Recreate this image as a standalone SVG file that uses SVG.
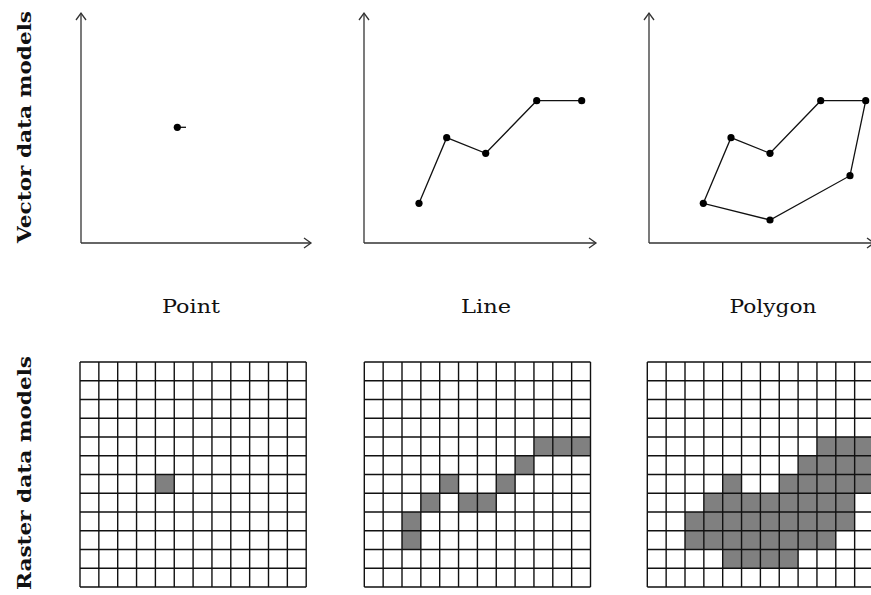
<svg xmlns="http://www.w3.org/2000/svg" xmlns:xlink="http://www.w3.org/1999/xlink" width="871" height="595" viewBox="0 0 871 595">
<style>
.axis{fill:none;stroke:#333;stroke-width:1.3;marker-end:url(#arr)}
.data{fill:none;stroke:#111;stroke-width:1.3}
.dot{fill:#000}
.cell{fill:#808080}
.grid{fill:none;stroke:#111;stroke-width:1.4}
.lbl{font-family:"DejaVu Serif","Liberation Serif",serif;font-size:19px;fill:#111;text-anchor:middle}
.side{font-family:"DejaVu Serif","Liberation Serif",serif;font-size:18px;font-weight:bold;fill:#111;text-anchor:middle}
</style>
<defs>
<marker id="arr" markerUnits="userSpaceOnUse" markerWidth="16" markerHeight="16" refX="0" refY="0" viewBox="-9 -8 12 16" orient="auto">
<path d="M-7,-5 L0,0 L-7,5" fill="none" stroke="#333" stroke-width="1.3"/>
</marker>
<path id="gl" class="grid" d="M0,0V225M18.85,0V225M37.7,0V225M56.55,0V225M75.4,0V225M94.25,0V225M113.1,0V225M131.95,0V225M150.8,0V225M169.65,0V225M188.5,0V225M207.35,0V225M226.2,0V225M0,0H226.2M0,18.75H226.2M0,37.5H226.2M0,56.25H226.2M0,75H226.2M0,93.75H226.2M0,112.5H226.2M0,131.25H226.2M0,150H226.2M0,168.75H226.2M0,187.5H226.2M0,206.25H226.2M0,225H226.2"/>
</defs>
<rect width="871" height="595" fill="#fff"/>
<g id="side-labels">
<text class="side" transform="translate(31,127) rotate(-90)" textLength="232" lengthAdjust="spacingAndGlyphs">Vector data models</text>
<text class="side" transform="translate(31,473) rotate(-90)" textLength="234" lengthAdjust="spacingAndGlyphs">Raster data models</text>
</g>
<g id="connectors">
<path class="axis" d="M81,243V13"/><path class="axis" d="M81,243H311"/>
<path class="axis" d="M364,243V13"/><path class="axis" d="M364,243H596"/>
<path class="axis" d="M649,243V13"/><path class="axis" d="M649,243H874"/>
</g>
<g id="vector-point">
<line class="data" x1="177.3" y1="127.3" x2="186" y2="127.3"/>
<circle class="dot" cx="177.3" cy="127.3" r="3.6"/>
</g>
<g id="vector-line">
<polyline class="data" points="419,203.3 446.7,137.7 485.7,153.3 536.7,100.7 581.7,100.7"/>
<circle class="dot" cx="419" cy="203.3" r="3.6"/>
<circle class="dot" cx="446.7" cy="137.7" r="3.6"/>
<circle class="dot" cx="485.7" cy="153.3" r="3.6"/>
<circle class="dot" cx="536.7" cy="100.7" r="3.6"/>
<circle class="dot" cx="581.7" cy="100.7" r="3.6"/>
</g>
<g id="vector-polygon">
<polygon class="data" points="703.3,203.3 731,137.7 770,153.3 820.7,100.7 865.7,100.7 850,175.7 770,220"/>
<circle class="dot" cx="703.3" cy="203.3" r="3.6"/>
<circle class="dot" cx="731" cy="137.7" r="3.6"/>
<circle class="dot" cx="770" cy="153.3" r="3.6"/>
<circle class="dot" cx="820.7" cy="100.7" r="3.6"/>
<circle class="dot" cx="865.7" cy="100.7" r="3.6"/>
<circle class="dot" cx="850" cy="175.7" r="3.6"/>
<circle class="dot" cx="770" cy="220" r="3.6"/>
</g>
<g id="labels">
<text class="lbl" x="191" y="313" textLength="58" lengthAdjust="spacingAndGlyphs">Point</text>
<text class="lbl" x="486" y="313" textLength="50" lengthAdjust="spacingAndGlyphs">Line</text>
<text class="lbl" x="773" y="313" textLength="87" lengthAdjust="spacingAndGlyphs">Polygon</text>
</g>
<g id="raster-point" transform="translate(80,362)">
<rect class="cell" x="75.4" y="112.5" width="18.85" height="18.75"/>
<use xlink:href="#gl"/>
</g>
<g id="raster-line" transform="translate(364.3,362)">
<rect class="cell" x="169.65" y="75" width="56.55" height="18.75"/>
<rect class="cell" x="150.8" y="93.75" width="18.85" height="18.75"/>
<rect class="cell" x="75.4" y="112.5" width="18.85" height="18.75"/>
<rect class="cell" x="131.95" y="112.5" width="18.85" height="18.75"/>
<rect class="cell" x="56.55" y="131.25" width="18.85" height="18.75"/>
<rect class="cell" x="94.25" y="131.25" width="37.7" height="18.75"/>
<rect class="cell" x="37.7" y="150" width="18.85" height="37.5"/>
<use xlink:href="#gl"/>
</g>
<g id="raster-polygon" transform="translate(647.3,362)">
<rect class="cell" x="169.65" y="75" width="56.55" height="18.75"/>
<rect class="cell" x="150.8" y="93.75" width="75.4" height="18.75"/>
<rect class="cell" x="75.4" y="112.5" width="18.85" height="18.75"/>
<rect class="cell" x="131.95" y="112.5" width="94.25" height="18.75"/>
<rect class="cell" x="56.55" y="131.25" width="150.8" height="18.75"/>
<rect class="cell" x="37.7" y="150" width="169.65" height="18.75"/>
<rect class="cell" x="37.7" y="168.75" width="150.8" height="18.75"/>
<rect class="cell" x="75.4" y="187.5" width="75.4" height="18.75"/>
<use xlink:href="#gl"/>
</g>
</svg>
